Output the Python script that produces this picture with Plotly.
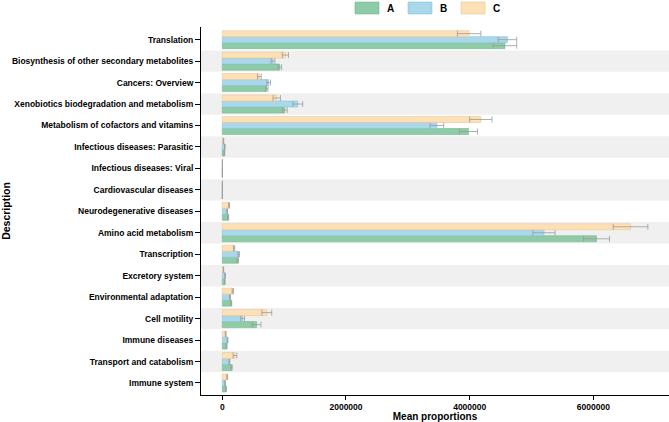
import plotly.graph_objects as go

# ---------------- data ----------------
categories = [
    "Translation",
    "Biosynthesis of other secondary metabolites",
    "Cancers: Overview",
    "Xenobiotics biodegradation and metabolism",
    "Metabolism of cofactors and vitamins",
    "Infectious diseases: Parasitic",
    "Infectious diseases: Viral",
    "Cardiovascular diseases",
    "Neurodegenerative diseases",
    "Amino acid metabolism",
    "Transcription",
    "Excretory system",
    "Environmental adaptation",
    "Cell motility",
    "Immune diseases",
    "Transport and catabolism",
    "Immune system",
]
groups = ["A", "B", "C"]

mean_A = [4570000, 930000, 720000, 1010000, 3980000, 35000, 2000, 2000, 95000,
          6050000, 250000, 40000, 145000, 555000, 70000, 150000, 60000]
mean_B = [4610000, 820000, 750000, 1220000, 3470000, 40000, 2000, 2000, 80000,
          5200000, 265000, 45000, 125000, 330000, 85000, 115000, 45000]
mean_C = [3990000, 1020000, 600000, 880000, 4180000, 20000, 2000, 2000, 110000,
          6600000, 190000, 20000, 170000, 720000, 55000, 205000, 80000]

err_A = [190000, 30000, 20000, 40000, 145000, 5000, 0, 0, 8000,
         210000, 12000, 4000, 8000, 70000, 6000, 10000, 6000]
err_B = [150000, 30000, 30000, 80000, 110000, 5000, 0, 0, 6000,
         180000, 12000, 4000, 8000, 30000, 6000, 8000, 5000]
err_C = [190000, 50000, 30000, 60000, 180000, 4000, 0, 0, 8000,
         280000, 10000, 3000, 10000, 80000, 6000, 30000, 6000]

x_ticks = [0, 2000000, 4000000, 6000000]

# ---------------- styles ----------------
fill = {"A": "#8ecba7", "B": "#a9d8ea", "C": "#fde0b6"}
edge = {"A": "#74b891", "B": "#8cc3d8", "C": "#e8c898"}
FONT = "Liberation Sans Narrow, Arial Narrow, Liberation Sans, Arial, sans-serif"

L, R, T, B = 201, 0, 27, 27
W, H = 669, 422
PW, PH = W - L - R, H - T - B


def px_x(p):
    return (p - L) / PW


def px_y(p):
    return (H - B - p) / PH


fig = go.Figure()
series = {"A": (mean_A, err_A), "B": (mean_B, err_B), "C": (mean_C, err_C)}
for g in groups:
    vals, errs = series[g]
    fig.add_trace(go.Bar(
        name=g, y=categories, x=vals, orientation="h",
        marker=dict(color=fill[g], line=dict(color=edge[g], width=0.6)),
        error_x=dict(type="data", array=errs, symmetric=True,
                     color="#9a9a9a", thickness=0.8, width=3),
        showlegend=False,
    ))

n = len(categories)
shapes = []
for i, c in enumerate(categories):
    if i % 2 == 1:
        pos = n - 1 - i
        shapes.append(dict(type="rect", xref="paper", yref="y",
                           x0=0, x1=1, y0=pos - 0.5, y1=pos + 0.5,
                           fillcolor="#f0f0f0", line=dict(width=0), layer="below"))

# manual legend
annotations = []
leg_x = {"A": 355, "B": 408, "C": 461}
for g in groups:
    x0 = leg_x[g]
    shapes.append(dict(type="rect", xref="paper", yref="paper",
                       x0=px_x(x0), x1=px_x(x0 + 24), y0=px_y(14), y1=px_y(2),
                       fillcolor=fill[g], line=dict(color=edge[g], width=0.6)))
    annotations.append(dict(xref="paper", yref="paper", x=px_x(x0 + 30), y=px_y(8),
                            text=g, showarrow=False, xanchor="left", yanchor="middle",
                            font=dict(family=FONT, size=10, color="black", weight="bold")))

fig.update_layout(
    width=W, height=H,
    margin=dict(l=L, r=R, t=T, b=B, pad=0, autoexpand=False),
    paper_bgcolor="white", plot_bgcolor="white",
    barmode="group", bargap=0.16, bargroupgap=0,
    shapes=shapes, annotations=annotations,
    showlegend=False,
    xaxis=dict(
        automargin=False,
        range=[-344000, 7222000], tickvals=x_ticks, tickformat="d",
        showgrid=False, zeroline=False, showline=True, linecolor="black", linewidth=1,
        ticks="outside", ticklen=4, tickcolor="black", tickwidth=1,
        tickfont=dict(family=FONT, size=8.5, color="black", weight="bold"),
        title=dict(text="Mean proportions", standoff=3,
                   font=dict(family=FONT, size=10, color="black", weight="bold")),
    ),
    yaxis=dict(
        automargin=False,
        type="category", categoryorder="array", categoryarray=categories[::-1],
        range=[-0.56, n - 1 + 0.59],
        showgrid=False, zeroline=False, showline=True, linecolor="black", linewidth=1,
        ticks="outside", ticklen=5, tickcolor="black", tickwidth=1,
        tickfont=dict(family=FONT, size=8.5, color="black", weight="bold"),
        title=dict(text="Description", standoff=5,
                   font=dict(family=FONT, size=10.5, color="black", weight="bold")),
    ),
)

fig.write_html("out.html")
